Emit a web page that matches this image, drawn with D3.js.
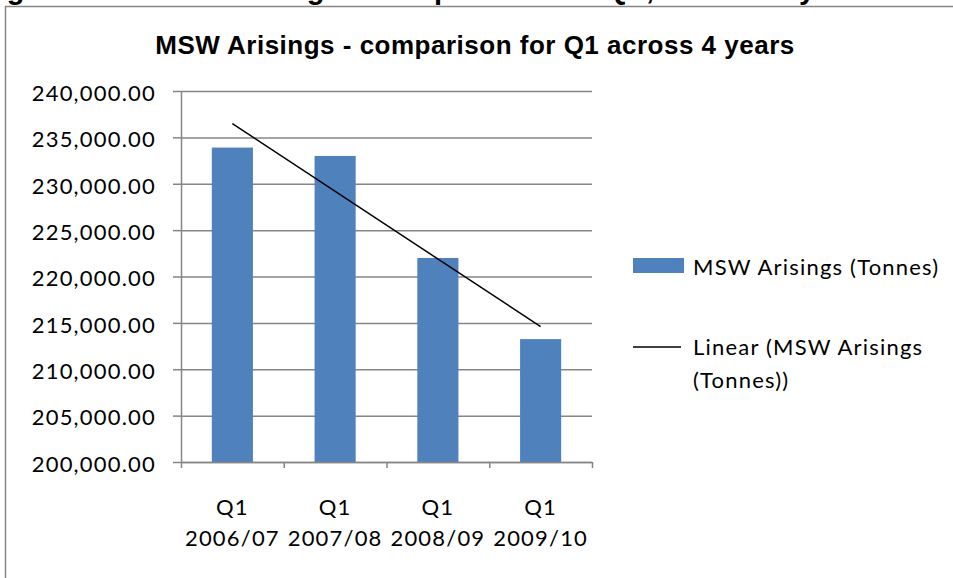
<!DOCTYPE html>
<html>
<head>
<meta charset="utf-8">
<script src="https://cdn.jsdelivr.net/npm/d3@7"></script>
<style>
  body { margin: 0; background: #fff; }
  svg { display: block; }
</style>
</head>
<body>
<div id="chart"></div>
<script>
// data
const quarters = ["Q1", "Q1", "Q1", "Q1"];
const years = ["2006/07", "2007/08", "2008/09", "2009/10"];
const arisings = [233900, 233000, 222000, 213250];
const yTicks = [200000, 205000, 210000, 215000, 220000, 225000, 230000, 235000, 240000];

const W = 953, H = 578;
// plot area
const plot = { left: 181, right: 592, top: 91, bottom: 462 };

const svg = d3.select("#chart").append("svg")
    .attr("width", W)
    .attr("height", H);

// caption above the chart, cut off by the page edge as in the original
svg.append("text")
    .attr("x", -21)
    .attr("y", -1)
    .style("font-family", "Liberation Sans, Arial, sans-serif")
    .style("font-weight", "bold")
    .style("font-size", "29px")
    .style("letter-spacing", "1px")
    .text("Figure 10: MSW Arisings - comparison for Q1, across 4 years");

// chart frame
svg.append("rect")
    .attr("x", 5.5)
    .attr("y", 6.5)
    .attr("width", W + 20)
    .attr("height", H + 20)
    .attr("fill", "none")
    .attr("stroke", "#868686")
    .attr("stroke-width", 1.5);

// title
svg.append("text")
    .attr("x", 475)
    .attr("y", 54)
    .attr("text-anchor", "middle")
    .style("font-family", "Liberation Sans, Arial, sans-serif")
    .style("font-weight", "bold")
    .style("font-size", "26px")
    .style("letter-spacing", "0.5px")
    .text("MSW Arisings - comparison for Q1 across 4 years");

const x = d3.scaleBand()
    .domain(d3.range(arisings.length))
    .range([plot.left, plot.right])
    .paddingInner(0.6)
    .paddingOuter(0.3);

const y = d3.scaleLinear()
    .domain([200000, 240000])
    .range([plot.bottom, plot.top]);

const fmt = d3.format(",.2f");
const labelFont = "Lato, 'Open Sans', sans-serif";

// gridlines
svg.append("g")
    .attr("transform", `translate(${plot.left},0)`)
    .call(d3.axisLeft(y).tickValues(yTicks).tickSize(-(plot.right - plot.left)).tickFormat(""))
    .call(g => g.select(".domain").remove())
    .call(g => g.selectAll("line").attr("stroke", "#868686").attr("stroke-width", 1.5));

// y axis
svg.append("g")
    .attr("transform", `translate(${plot.left},0)`)
    .call(d3.axisLeft(y).tickValues(yTicks).tickSize(8).tickSizeOuter(0).tickPadding(17).tickFormat(fmt))
    .call(g => g.select(".domain").attr("stroke", "#868686").attr("stroke-width", 1.5))
    .call(g => g.selectAll("line").attr("stroke", "#868686").attr("stroke-width", 1.5))
    .call(g => g.selectAll("text")
        .attr("fill", "#000")
        .attr("dy", "0.42em")
        .style("font-family", labelFont)
        .style("font-size", "22px")
        .style("letter-spacing", "1.2px"));

// bars
svg.append("g")
    .selectAll("rect")
    .data(arisings)
    .join("rect")
    .attr("x", (d, i) => x(i))
    .attr("y", d => y(d))
    .attr("width", x.bandwidth())
    .attr("height", d => y(200000) - y(d))
    .attr("fill", "#4F81BD");

// x axis: ticks sit between categories
const xEdges = d3.scaleLinear()
    .domain([0, arisings.length])
    .range([plot.left, plot.right]);
svg.append("g")
    .attr("transform", `translate(0,${plot.bottom})`)
    .call(d3.axisBottom(xEdges).ticks(arisings.length).tickSize(6).tickSizeOuter(0).tickFormat(""))
    .call(g => g.select(".domain").attr("stroke", "#868686").attr("stroke-width", 1.5))
    .call(g => g.selectAll("line").attr("stroke", "#868686").attr("stroke-width", 1.5));

// category labels, two lines each
const xLabels = svg.append("g")
    .selectAll("text")
    .data(years)
    .join("text")
    .attr("text-anchor", "middle")
    .attr("fill", "#000")
    .style("font-family", labelFont)
    .style("font-size", "22px")
    .style("letter-spacing", "1.2px");
xLabels.append("tspan")
    .attr("x", (d, i) => x(i) + x.bandwidth() / 2)
    .attr("y", 515)
    .text((d, i) => quarters[i]);
xLabels.append("tspan")
    .attr("x", (d, i) => x(i) + x.bandwidth() / 2)
    .attr("y", 546)
    .text(d => d);

// linear trend line (least squares over category index)
const idx = arisings.map((d, i) => i + 1);
const mx = d3.mean(idx), my = d3.mean(arisings);
const slope = d3.sum(idx, (v, i) => (v - mx) * (arisings[i] - my)) / d3.sum(idx, v => (v - mx) ** 2);
const intercept = my - slope * mx;
const trend = idx.map(v => ({ i: v - 1, value: intercept + slope * v }));

svg.append("path")
    .datum([trend[0], trend[trend.length - 1]])
    .attr("d", d3.line()
        .x(d => x(d.i) + x.bandwidth() / 2)
        .y(d => y(d.value)))
    .attr("stroke", "#000")
    .attr("stroke-width", 1.5)
    .attr("fill", "none");

// legend
const legend = svg.append("g")
    .style("font-family", labelFont)
    .style("font-size", "22px")
    .style("letter-spacing", "1.2px");
legend.append("rect")
    .attr("x", 633).attr("y", 258)
    .attr("width", 51).attr("height", 15)
    .attr("fill", "#4F81BD");
legend.append("text")
    .attr("x", 693).attr("y", 275)
    .text("MSW Arisings (Tonnes)");
legend.append("line")
    .attr("x1", 633).attr("x2", 681)
    .attr("y1", 347).attr("y2", 347)
    .attr("stroke", "#000")
    .attr("stroke-width", 1.5);
const lt = legend.append("text");
lt.append("tspan").attr("x", 693).attr("y", 355).text("Linear (MSW Arisings");
lt.append("tspan").attr("x", 693).attr("y", 388).text("(Tonnes))");
</script>
</body>
</html>
